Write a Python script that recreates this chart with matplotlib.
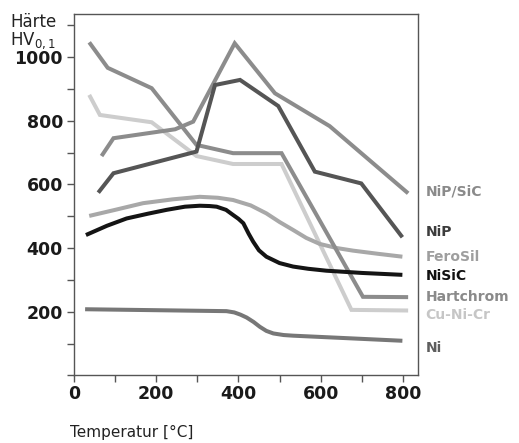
import matplotlib
matplotlib.use("Agg")
import matplotlib.pyplot as plt
from matplotlib.ticker import MultipleLocator

# Data (temperature in °C, hardness HV0,1)
nipsic_x = [67, 96, 246, 290, 391, 489, 622, 813]
nipsic_y = [689, 745, 773, 797, 1043, 886, 783, 572]

nip_x = [59, 96, 298, 343, 404, 497, 586, 699, 799]
nip_y = [574, 635, 703, 912, 928, 846, 640, 603, 434]

hartchrom_x = [37, 82, 189, 298, 387, 505, 703, 813]
hartchrom_y = [1046, 966, 902, 724, 698, 698, 247, 246]

cunicr_x = [37, 63, 189, 298, 387, 505, 675, 813]
cunicr_y = [881, 818, 795, 689, 664, 664, 206, 204]

ferosil_x = [37, 100, 168, 240, 306, 350, 387, 430, 468, 500, 533, 565, 598, 640, 679, 740, 799]
ferosil_y = [501, 520, 541, 553, 561, 558, 551, 534, 509, 482, 457, 432, 413, 400, 392, 382, 373]

nisic_x = [29, 80, 128, 180, 225, 270, 306, 330, 347, 370, 387, 400, 412, 425, 436, 450, 468, 500, 533, 570, 614, 700, 799]
nisic_y = [441, 470, 493, 508, 520, 530, 533, 532, 530, 520, 504, 492, 478, 445, 420, 393, 373, 353, 342, 335, 329, 322, 316]

ni_x = [27, 200, 371, 390, 405, 420, 437, 452, 468, 485, 510, 533, 650, 799]
ni_y = [208, 205, 202, 198, 191, 182, 168, 153, 140, 132, 127, 125, 118, 109]

series = [
    ("NiP/SiC", nipsic_x, nipsic_y, "#8c8c8c", 577),
    ("NiP", nip_x, nip_y, "#555555", 451),
    ("FeroSil", ferosil_x, ferosil_y, "#a8a8a8", 373),
    ("NiSiC", nisic_x, nisic_y, "#141414", 312),
    ("Hartchrom", hartchrom_x, hartchrom_y, "#8c8c8c", 247),
    ("Cu-Ni-Cr", cunicr_x, cunicr_y, "#cdcdcd", 190),
    ("Ni", ni_x, ni_y, "#777777", 85),
]
label_colors = {"NiP/SiC": "#8a8a8a", "NiP": "#3c3c3c", "FeroSil": "#9e9e9e",
                "NiSiC": "#111111", "Hartchrom": "#8a8a8a", "Cu-Ni-Cr": "#c6c6c6",
                "Ni": "#5e5e5e"}

x_ticks = [0, 200, 400, 600, 800]
y_ticks = [200, 400, 600, 800, 1000]

plt.rcParams['font.family'] = ['DejaVu Sans']

fig = plt.figure(figsize=(5.19, 4.43), dpi=100)
ax = fig.add_axes([0.1426, 0.1524, 0.8054 - 0.1426, 0.9677 - 0.1524])

order = ["Cu-Ni-Cr", "FeroSil", "Hartchrom", "NiP/SiC", "NiP", "Ni", "NiSiC"]
lookup = {s[0]: s for s in series}
for name in order:
    n, xs, ys, c, ly = lookup[name]
    ax.plot(xs, ys, color=c, lw=2.9, solid_capstyle='butt', solid_joinstyle='miter')

for n, xs, ys, c, ly in series:
    ax.text(855, ly, n, color=label_colors[n], fontsize=10, fontweight='bold',
            va='center', ha='left', clip_on=False)

ax.set_xlim(0, 837)
ax.set_ylim(0, 1134)
ax.set_xticks(x_ticks)
ax.set_yticks(y_ticks)
ax.xaxis.set_minor_locator(MultipleLocator(100))
ax.yaxis.set_minor_locator(MultipleLocator(100))
ax.tick_params(axis='both', which='both', direction='out', length=5, width=1, color='#555555')
ax.tick_params(axis='both', which='major', labelsize=12.5, labelcolor='#1a1a1a')
ax.tick_params(axis='x', which='major', pad=2)
ax.tick_params(axis='y', which='major', pad=3)
for lab in ax.get_xticklabels() + ax.get_yticklabels():
    lab.set_fontweight('bold')
for sp in ax.spines.values():
    sp.set_color('#555555')
    sp.set_linewidth(1)

fig.text(10 / 519, 1 - 22 / 443, "Härte", fontsize=12, color='#222222', va='center', ha='left')
fig.text(10 / 519, 1 - 41 / 443, "HV$_{0,1}$", fontsize=12, color='#222222', va='center', ha='left')
fig.text(70 / 519, 1 - 432 / 443, "Temperatur [°C]", fontsize=11, color='#222222', va='center', ha='left')

fig.savefig("out.png", dpi=100)
